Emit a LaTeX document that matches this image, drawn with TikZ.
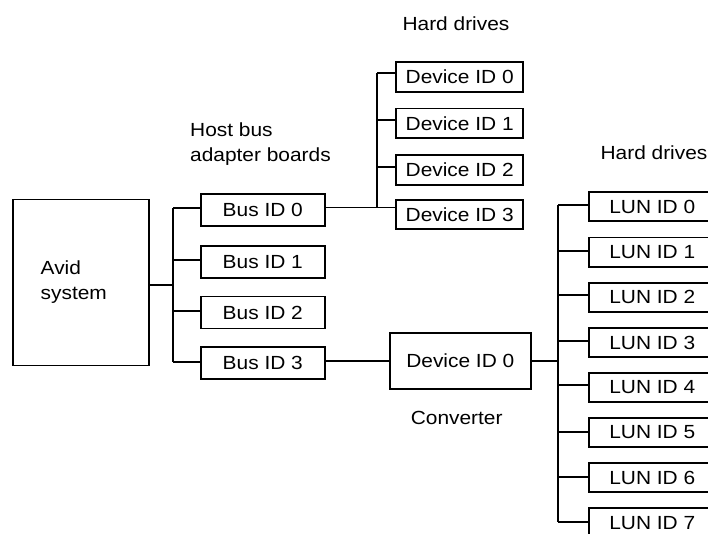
\documentclass[tikz,border=0pt]{standalone}
\usepackage{fontspec}
\setmainfont{Liberation Sans}[FakeStretch=1.1]
\begin{document}
\begin{tikzpicture}[x=1pt,y=-1pt,
  every node/.style={font=\fontsize{19}{25}\selectfont},
  box/.style={draw,line width=1.9pt,inner sep=0pt,minimum width=#1},
  busbox/.style={box=124pt,minimum height=32pt},
  devbox/.style={box=127pt,minimum height=29.5pt},
  lunbox/.style={box=126pt,minimum height=29.3pt},
  lbl/.style={inner sep=0pt,align=left},
  wire/.style={line width=1.9pt}]
\useasboundingbox (0,0) rectangle (708,534);
\clip (0,0) rectangle (708,534);
% Avid system
\node[box=136pt,minimum height=166pt] (avid) at (81,282.5) {};
\node[lbl,anchor=west] (avidt) at (40.5,282) {Avid\\system};
% Bus boxes
\node[busbox] (b0) at (262.8,210.3) {Bus ID 0};
\node[busbox] (b1) at (262.8,261.7) {Bus ID 1};
\node[busbox] (b2) at (262.8,312.5) {Bus ID 2};
\node[busbox] (b3) at (262.8,363.3) {Bus ID 3};
\node[lbl,anchor=west] (hba) at (190,144) {Host bus\\adapter boards};
% Device boxes
\node[devbox] (d0) at (459.7,77.2) {Device ID 0};
\node[devbox] (d1) at (459.7,123.3) {Device ID 1};
\node[devbox] (d2) at (459.7,170) {Device ID 2};
\node[devbox] (d3) at (459.7,214.7) {Device ID 3};
\node[lbl] (hd1) at (456,24) {Hard drives};
% Converter
\node[box=140.7pt,minimum height=56.3pt] (conv) at (460.3,360.8) {Device ID 0};
\node[lbl] (convt) at (456.7,418) {Converter};
% LUN boxes
\node[lunbox] (l0) at (652.3,206.8) {LUN ID 0};
\node[lunbox] (l1) at (652.3,252.2) {LUN ID 1};
\node[lunbox] (l2) at (652.3,297.3) {LUN ID 2};
\node[lunbox] (l3) at (652.3,342.5) {LUN ID 3};
\node[lunbox] (l4) at (652.3,387.5) {LUN ID 4};
\node[lunbox] (l5) at (652.3,432.3) {LUN ID 5};
\node[lunbox] (l6) at (652.3,477.5) {LUN ID 6};
\node[lunbox] (l7) at (652.3,523) {LUN ID 7};
\node[lbl] (hd2) at (654,152.7) {Hard drives};
% junction coordinates
\coordinate (am) at (173,285);
\coordinate (a0) at (173,207.7);
\coordinate (a1) at (173,260);
\coordinate (a2) at (173,311);
\coordinate (a3) at (173,361.7);
\coordinate (c0) at (377,72.7);
\coordinate (c1) at (377,120);
\coordinate (c2) at (377,166.7);
\coordinate (c3) at (377,207.5);
\coordinate (cv) at (558.3,361);
\coordinate (k0) at (558.3,205);
\coordinate (k1) at (558.3,250.7);
\coordinate (k2) at (558.3,295);
\coordinate (k3) at (558.3,341);
\coordinate (k4) at (558.3,385);
\coordinate (k5) at (558.3,431.7);
\coordinate (k6) at (558.3,476.7);
\coordinate (k7) at (558.3,521.7);
% wires: Avid to buses
\draw[wire] (avid.east |- am) -- (am);
\draw[wire] (a0) -- (a3);
\foreach \i in {0,...,3} \draw[wire] (a\i) -- (b\i.west |- a\i);
% Bus 0 to devices
\draw[wire] (b0.east |- c3) -- (c3);
\draw[wire] (c0) -- (c3);
\foreach \i in {0,...,3} \draw[wire] (c\i) -- (d\i.west |- c\i);
% Bus 3 to converter
\draw[wire] (b3.east |- cv) -- (conv.west |- cv);
\draw[wire] (conv.east |- cv) -- (cv);
\draw[wire] (k0) -- (k7);
\foreach \i in {0,...,7} \draw[wire] (k\i) -- (l\i.west |- k\i);
\end{tikzpicture}
\end{document}
